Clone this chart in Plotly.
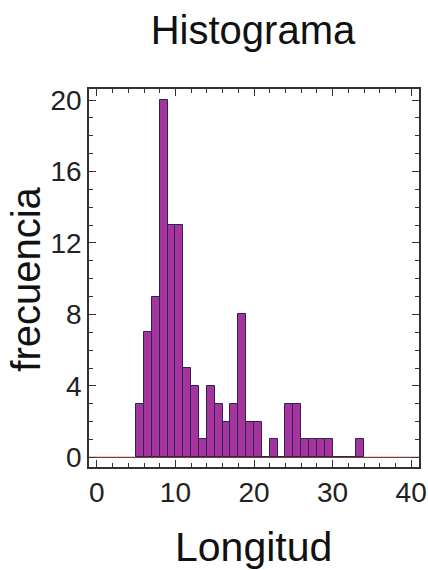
import plotly.graph_objects as go

# Data: histogram bins of width 1 (left edges) and counts
bin_left = [5, 6, 7, 8, 9, 10, 11, 12, 13, 14, 15, 16, 17, 18, 19, 20,
            21, 22, 23, 24, 25, 26, 27, 28, 29, 30, 31, 32, 33]
counts = [3, 7, 9, 20, 13, 13, 5, 4, 1, 4, 3, 2, 3, 8, 2, 2,
          0, 1, 0, 3, 3, 1, 1, 1, 1, 0, 0, 0, 1]
bin_width = 1
x_ticks = [0, 10, 20, 30, 40]
y_ticks = [0, 4, 8, 12, 16, 20]

W, H = 428, 570
L, R, T, B = 89, 9, 89, 103

fig = go.Figure()
fig.add_trace(go.Bar(
    x=[b + bin_width / 2 for b in bin_left],
    y=counts,
    width=bin_width,
    marker=dict(color="#A5359C", line=dict(color="#2B2455", width=1)),
))

font = "Liberation Sans, Arial, sans-serif"
fig.update_layout(
    width=W, height=H,
    margin=dict(l=L, r=R, t=T, b=B),
    paper_bgcolor="white", plot_bgcolor="white",
    showlegend=False,
    bargap=0,
    font=dict(family=font, color="#1a1a1a"),
    title=dict(text="Histograma", x=253 / W, xanchor="center",
               y=1 - 30 / H, yanchor="middle", yref="container",
               font=dict(size=40, family=font, color="#111")),
)
fig.update_xaxes(
    range=[-1, 41], tickvals=x_ticks, ticks="inside", ticklen=7,
    tickcolor="#333", tickwidth=1.3,
    showline=True, linecolor="#333", linewidth=1.5, mirror="ticks",
    showgrid=False, zeroline=False, automargin=False, ticklabeloverflow="allow",
    tickfont=dict(size=28, family=font, color="#222"),
    minor=dict(dtick=2, tick0=0, ticks="inside", ticklen=4, tickcolor="#333", showgrid=False),
)
fig.update_yaxes(
    range=[-0.54, 20.62], tickvals=y_ticks, ticks="inside", ticklen=7,
    tickcolor="#333", tickwidth=1.3,
    showline=True, linecolor="#333", linewidth=1.5, mirror="ticks",
    showgrid=False, zeroline=False, automargin=False, ticklabeloverflow="allow",
    tickfont=dict(size=28, family=font, color="#222"),
    minor=dict(dtick=1, tick0=0, ticks="inside", ticklen=4, tickcolor="#333", showgrid=False),
)
# baseline at zero
fig.add_hline(y=0, line=dict(color="#8a3a3a", width=1.3), layer="below")

PW, PH = W - L - R, H - T - B
fig.add_annotation(text="frecuencia", textangle=-90, xref="paper", yref="paper",
                   x=-(L - 26) / PW, y=0.4955, xanchor="center", yanchor="middle",
                   showarrow=False, font=dict(size=40, family=font, color="#111"))
fig.add_annotation(text="Longitud", xref="paper", yref="paper",
                   x=0.4976, y=-(547 - (H - B)) / PH, xanchor="center", yanchor="middle",
                   showarrow=False, font=dict(size=41, family=font, color="#111"))

fig.write_html("out.html",
               config={"displayModeBar": False},
               post_script="document.body.style.margin='0';document.documentElement.style.overflow='hidden';")
